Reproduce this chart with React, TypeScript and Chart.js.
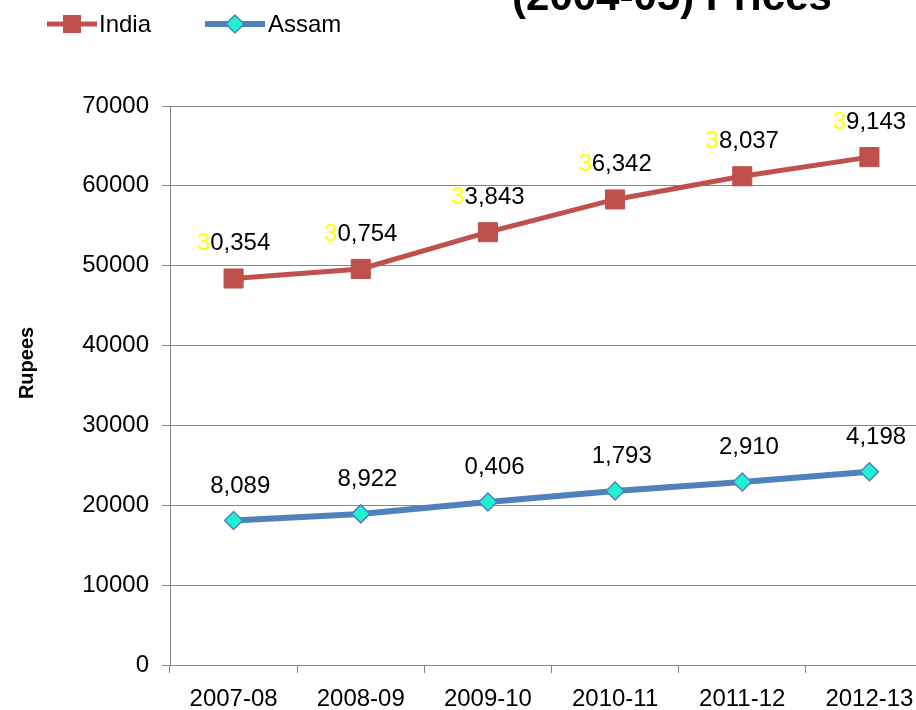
import React, { useEffect, useRef } from 'react';
import { Chart, registerables } from 'chart.js';

Chart.register(...registerables);

const categories = ['2007-08', '2008-09', '2009-10', '2010-11', '2011-12', '2012-13'];
const indiaValues = [48400, 49600, 54200, 58300, 61200, 63600];
const assamValues = [18089, 18922, 20406, 21793, 22910, 24198];
const indiaLabels = ['30,354', '30,754', '33,843', '36,342', '38,037', '39,143'];
const assamLabels = ['18,089', '18,922', '20,406', '21,793', '22,910', '24,198'];
const seriesNames = ['India', 'Assam'];
const yMin = 0;
const yMax = 70000;
const yStep = 10000;
const titleText = '(2004-05) Prices';
const yTitleText = 'Rupees';

const FONT = "'Liberation Sans', Arial, sans-serif";
const INDIA_COLOR = '#C0504D';
const ASSAM_LINE = '#4F81BD';
const ASSAM_FILL = '#1EF2D2';
const GRID = '#868686';

const overlayPlugin = {
  id: 'overlay',
  afterDatasetsDraw(chart: any) {
    const ctx = chart.ctx;
    ctx.save();
    ctx.font = `24px ${FONT}`;
    ctx.textBaseline = 'alphabetic';
    ctx.textAlign = 'left';
    const groups = [
      { idx: 0, labels: indiaLabels, first: '#FFFF00' },
      { idx: 1, labels: assamLabels, first: '#FFFFFF' },
    ];
    groups.forEach((g) => {
      const meta = chart.getDatasetMeta(g.idx);
      meta.data.forEach((pt: any, i: number) => {
        const txt = g.labels[i];
        const w = ctx.measureText(txt).width;
        const x0 = pt.x - w / 2;
        const y = pt.y - 28;
        const head = txt.charAt(0);
        const rest = txt.slice(1);
        ctx.fillStyle = g.first;
        ctx.fillText(head, x0, y);
        ctx.fillStyle = '#000000';
        ctx.fillText(rest, x0 + ctx.measureText(head).width, y);
      });
    });
    ctx.restore();
  },
  afterDraw(chart: any) {
    const ctx = chart.ctx;
    ctx.save();
    // title (cut off at top)
    ctx.font = `bold 42px ${FONT}`;
    ctx.fillStyle = '#000000';
    ctx.textAlign = 'center';
    ctx.textBaseline = 'alphabetic';
    ctx.fillText(titleText, 672, 10);

    // legend
    const ly = 24;
    // India
    ctx.strokeStyle = INDIA_COLOR;
    ctx.lineWidth = 5;
    ctx.beginPath();
    ctx.moveTo(47, ly);
    ctx.lineTo(97, ly);
    ctx.stroke();
    ctx.fillStyle = INDIA_COLOR;
    ctx.fillRect(72 - 9, ly - 9, 18, 18);
    ctx.font = `24px ${FONT}`;
    ctx.textAlign = 'left';
    ctx.textBaseline = 'middle';
    ctx.fillStyle = '#000000';
    ctx.fillText(seriesNames[0], 99, ly + 1);
    // Assam
    ctx.strokeStyle = ASSAM_LINE;
    ctx.lineWidth = 6;
    ctx.beginPath();
    ctx.moveTo(205, ly);
    ctx.lineTo(265, ly);
    ctx.stroke();
    ctx.beginPath();
    ctx.moveTo(235 - 9, ly);
    ctx.lineTo(235, ly - 9);
    ctx.lineTo(235 + 9, ly);
    ctx.lineTo(235, ly + 9);
    ctx.closePath();
    ctx.fillStyle = ASSAM_FILL;
    ctx.fill();
    ctx.lineWidth = 1.5;
    ctx.strokeStyle = ASSAM_LINE;
    ctx.stroke();
    ctx.fillStyle = '#000000';
    ctx.fillText(seriesNames[1], 268, ly + 1);

    // y-axis title
    ctx.translate(27, 363);
    ctx.rotate(-Math.PI / 2);
    ctx.font = `bold 20px ${FONT}`;
    ctx.textAlign = 'center';
    ctx.textBaseline = 'middle';
    ctx.fillText(yTitleText, 0, 0);
    ctx.restore();
  },
};

export default function App() {
  const ref = useRef<HTMLCanvasElement | null>(null);

  useEffect(() => {
    if (!ref.current) return;
    const chart = new Chart(ref.current, {
      type: 'line',
      data: {
        labels: categories,
        datasets: [
          {
            label: seriesNames[0],
            data: indiaValues,
            borderColor: INDIA_COLOR,
            backgroundColor: INDIA_COLOR,
            borderWidth: 5,
            pointStyle: 'rect',
            pointRadius: 13.5,
            pointBorderWidth: 1,
            pointBorderColor: INDIA_COLOR,
            pointBackgroundColor: INDIA_COLOR,
            tension: 0,
          },
          {
            label: seriesNames[1],
            data: assamValues,
            borderColor: ASSAM_LINE,
            backgroundColor: ASSAM_FILL,
            borderWidth: 6,
            pointStyle: 'rectRot',
            pointRadius: 9,
            pointBorderWidth: 1.5,
            pointBorderColor: ASSAM_LINE,
            pointBackgroundColor: ASSAM_FILL,
            tension: 0,
          },
        ],
      },
      options: {
        responsive: false,
        maintainAspectRatio: false,
        animation: false,
        layout: { padding: { left: 0, top: 106, right: 27, bottom: 0 } },
        plugins: {
          legend: { display: false },
          title: { display: false },
          tooltip: { enabled: false },
        },
        scales: {
          x: {
            type: 'category',
            offset: true,
            grid: {
              offset: true,
              drawOnChartArea: false,
              drawTicks: true,
              tickLength: 8,
              color: GRID,
            },
            border: { display: true, color: GRID, width: 1 },
            ticks: {
              color: '#000000',
              font: { family: FONT, size: 24 },
              padding: 12,
              maxRotation: 0,
              autoSkip: false,
            },
            afterFit: (s: any) => {
              s.height = 45;
            },
          },
          y: {
            min: yMin,
            max: yMax,
            grid: { color: GRID, tickLength: 8, lineWidth: 1 },
            border: { display: true, color: GRID, width: 1 },
            ticks: {
              stepSize: yStep,
              color: '#000000',
              font: { family: FONT, size: 24 },
              padding: 13,
              callback: (v: any) => String(v),
            },
            afterFit: (s: any) => {
              s.width = 170;
            },
          },
        },
      },
      plugins: [overlayPlugin],
    });
    return () => chart.destroy();
  }, []);

  return (
    <div
      style={{
        position: 'fixed',
        left: 0,
        top: 0,
        width: 916,
        height: 710,
        overflow: 'hidden',
        background: '#ffffff',
      }}
    >
      <canvas ref={ref} width={960} height={710} style={{ width: 960, height: 710, display: 'block' }} />
    </div>
  );
}
